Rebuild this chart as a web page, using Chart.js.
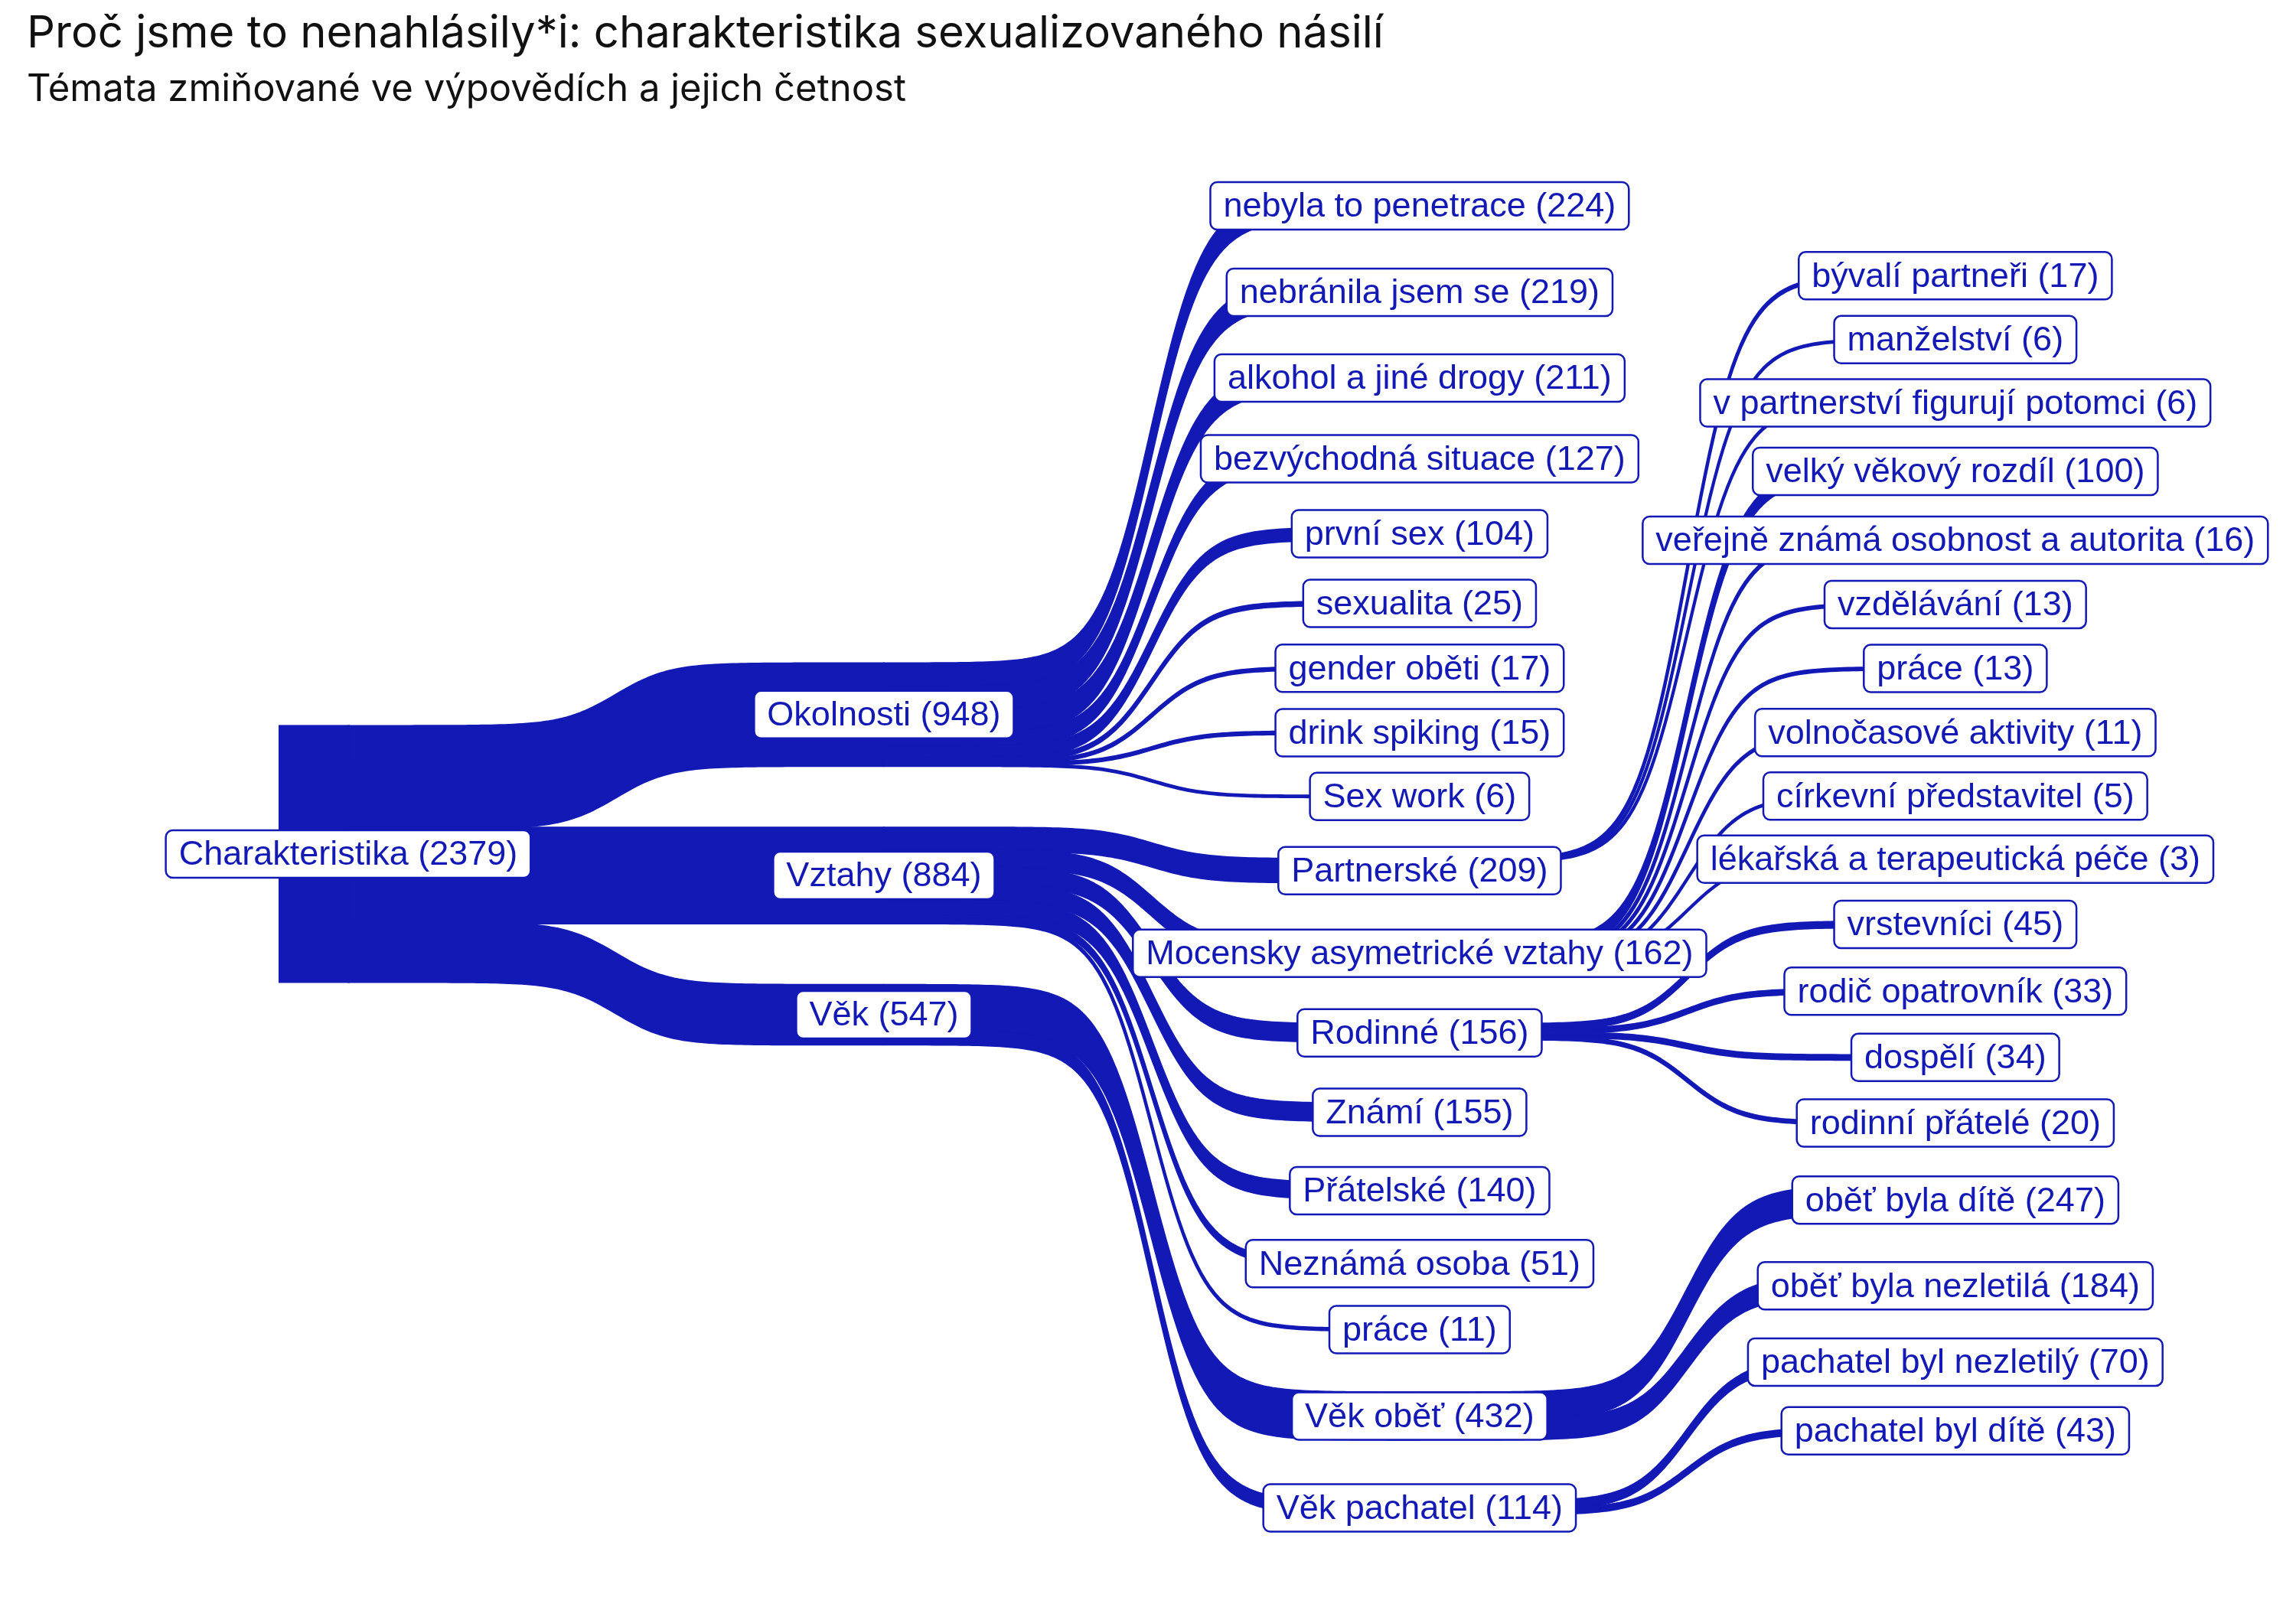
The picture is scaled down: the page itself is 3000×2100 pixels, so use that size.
<!DOCTYPE html>
<html lang="cs">
<head>
    <meta charset="UTF-8">
    <title>Proč jsme to nenahlásily*i</title>
    <style>
        body {
            margin: 0;
            padding: 0;
            background-color: #ffffff;
        }
        .wrap {
            width: 3000px;
            height: 2100px;
        }
    </style>
</head>
<body>
    <div class="wrap">
        <canvas id="chart"></canvas>
    </div>

    <script src="https://cdn.jsdelivr.net/npm/chart.js"></script>
    <script>
// data - uzly po úrovních, rodič = index uzlu v předchozí úrovni
const level0Labels = ['Charakteristika'];
const level0Values = [2379];

const level1Labels = ['Okolnosti', 'Vztahy', 'Věk'];
const level1Values = [948, 884, 547];
const level1Parents = [0, 0, 0];

const level2Labels = ['nebyla to penetrace', 'nebránila jsem se', 'alkohol a jiné drogy', 'bezvýchodná situace',
    'první sex', 'sexualita', 'gender oběti', 'drink spiking', 'Sex work', 'Partnerské',
    'Mocensky asymetrické vztahy', 'Rodinné', 'Známí', 'Přátelské', 'Neznámá osoba', 'práce',
    'Věk oběť', 'Věk pachatel'];
const level2Values = [224, 219, 211, 127, 104, 25, 17, 15, 6, 209, 162, 156, 155, 140, 51, 11, 432, 114];
const level2Parents = [0, 0, 0, 0, 0, 0, 0, 0, 0, 1, 1, 1, 1, 1, 1, 1, 2, 2];

const level3Labels = ['bývalí partneři', 'manželství', 'v partnerství figurují potomci', 'velký věkový rozdíl',
    'veřejně známá osobnost a autorita', 'vzdělávání', 'práce', 'volnočasové aktivity',
    'církevní představitel', 'lékařská a terapeutická péče', 'vrstevníci', 'rodič opatrovník',
    'dospělí', 'rodinní přátelé', 'oběť byla dítě', 'oběť byla nezletilá',
    'pachatel byl nezletilý', 'pachatel byl dítě'];
const level3Values = [17, 6, 6, 100, 16, 13, 13, 11, 5, 3, 45, 33, 34, 20, 247, 184, 70, 43];
const level3Parents = [9, 9, 9, 10, 10, 10, 10, 10, 10, 10, 11, 11, 11, 11, 16, 16, 17, 17];

const titleText = 'Proč jsme to nenahlásily*i: charakteristika sexualizovaného násilí';
const subtitleText = 'Témata zmiňované ve výpovědích a jejich četnost';

const BLUE = '#1219b5';
const GAP = 585;        // mezera mezi uzly ve sloupci (jednotky četnosti)
const ROOT_W = 0.13;    // přesah kořene doleva (jednotky osy x)
const STEEP = 20;       // strmost sigmoidy

const levels = [
    { labels: level0Labels, values: level0Values, parents: null },
    { labels: level1Labels, values: level1Values, parents: level1Parents },
    { labels: level2Labels, values: level2Values, parents: level2Parents },
    { labels: level3Labels, values: level3Values, parents: level3Parents }
];

// rozložení sloupce: uzly nad sebou, výška = četnost, vycentrováno na 0
function layoutColumn(values) {
    const total = values.reduce((a, b) => a + b, 0) + GAP * (values.length - 1);
    let y = -total / 2;
    return values.map(v => {
        const top = y;
        y += v + GAP;
        return { top: top, bottom: top + v, mid: top + v / 2 };
    });
}
levels.forEach(l => { l.nodes = layoutColumn(l.values); });

function sigmoid(t) {
    const a = 1 / (1 + Math.exp(STEEP / 2));
    return (1 / (1 + Math.exp(-STEEP * (t - 0.5))) - a) / (1 - 2 * a);
}

const sankeyPlugin = {
    id: 'sankey',
    afterDatasetsDraw(chart) {
        const ctx = chart.ctx;
        const xs = chart.scales.x;
        const ys = chart.scales.y;
        ctx.save();
        ctx.fillStyle = BLUE;
        ctx.strokeStyle = BLUE;
        ctx.lineJoin = 'round';

        // kořen - pruh vlevo od uzlu
        const root = levels[0].nodes[0];
        const rx0 = xs.getPixelForValue(-ROOT_W);
        const rx1 = xs.getPixelForValue(0);
        const ry0 = ys.getPixelForValue(root.top);
        const ry1 = ys.getPixelForValue(root.bottom);
        ctx.fillRect(rx0, ry0 - 2, rx1 - rx0 + 2, ry1 - ry0 + 4);

        // stuhy mezi úrovněmi (od středu rodiče ke středu potomka)
        for (let li = 1; li < levels.length; li++) {
            const lvl = levels[li];
            const prev = levels[li - 1];
            const offsets = prev.nodes.map(n => n.top);
            lvl.values.forEach((v, i) => {
                const p = lvl.parents[i];
                const t0 = offsets[p];
                offsets[p] += v;
                const t1 = lvl.nodes[i].top;
                const x0 = li - 1;
                const x1 = li;
                const steps = 120;
                ctx.beginPath();
                for (let s = 0; s <= steps; s++) {
                    const t = s / steps;
                    const px = xs.getPixelForValue(x0 + (x1 - x0) * t);
                    const py = ys.getPixelForValue(t0 + (t1 - t0) * sigmoid(t));
                    if (s === 0) ctx.moveTo(px, py); else ctx.lineTo(px, py);
                }
                for (let s = steps; s >= 0; s--) {
                    const t = s / steps;
                    const px = xs.getPixelForValue(x0 + (x1 - x0) * t);
                    const py = ys.getPixelForValue(t0 + v + (t1 - t0) * sigmoid(t));
                    ctx.lineTo(px, py);
                }
                ctx.closePath();
                ctx.fill();
                ctx.lineWidth = 4;
                ctx.stroke();
            });
        }

        // popisky
        ctx.font = '45px "Liberation Sans", Arial, sans-serif';
        ctx.textAlign = 'center';
        ctx.textBaseline = 'middle';
        levels.forEach((lvl, li) => {
            lvl.nodes.forEach((n, i) => {
                const text = lvl.labels[i] + ' (' + lvl.values[i] + ')';
                const w = ctx.measureText(text).width + 34;
                const h = 62;
                const cx = xs.getPixelForValue(li);
                const cy = ys.getPixelForValue(n.mid);
                ctx.beginPath();
                ctx.roundRect(cx - w / 2, cy - h / 2, w, h, 9);
                ctx.fillStyle = '#ffffff';
                ctx.fill();
                ctx.lineWidth = 2.5;
                ctx.strokeStyle = BLUE;
                ctx.stroke();
                ctx.fillStyle = BLUE;
                ctx.fillText(text, cx, cy + 2);
            });
        });

        // nadpis
        ctx.textAlign = 'left';
        ctx.textBaseline = 'alphabetic';
        ctx.fillStyle = '#111111';
        ctx.font = '400 58px Inter, sans-serif';
        ctx.fillText(titleText, 35, 62);
        ctx.font = '400 49px Inter, sans-serif';
        ctx.fillText(subtitleText, 35, 132);
        ctx.restore();
    }
};

const ctx = document.getElementById('chart').getContext('2d');
new Chart(ctx, {
    type: 'scatter',
    data: {
        datasets: levels.map((lvl, li) => ({
            label: 'úroveň ' + li,
            data: lvl.nodes.map(n => ({ x: li, y: n.mid })),
            pointRadius: 0
        }))
    },
    options: {
        responsive: true,
        maintainAspectRatio: false,
        animation: false,
        events: [],
        layout: { padding: 0 },
        plugins: {
            legend: { display: false },
            tooltip: { enabled: false }
        },
        scales: {
            x: { type: 'linear', min: -0.65, max: 3.636, display: false },
            y: { type: 'linear', min: -7971, max: 7029, reverse: true, display: false }
        }
    },
    plugins: [sankeyPlugin]
});
    </script>
</body>
</html>
